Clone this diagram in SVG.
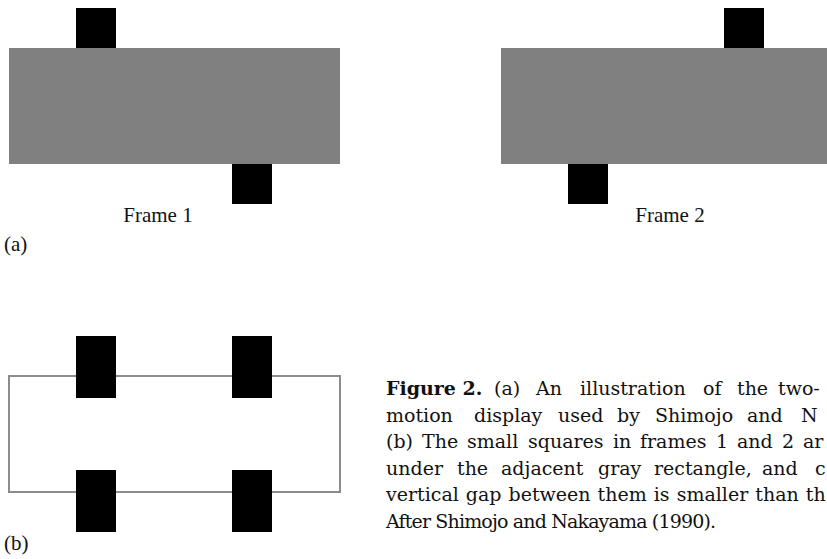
<svg xmlns="http://www.w3.org/2000/svg" width="827" height="559" viewBox="0 0 827 559">
  <style>
    .bar { fill: #808080; }
    .sq { fill: #000000; }
    .outline { fill: none; stroke: #8c8c8c; stroke-width: 2; }
    .lbl { font-family: "Liberation Serif", "Times New Roman", serif; font-size: 21px; fill: #111; }
    .cap { font-family: "DejaVu Serif", "Liberation Serif", serif; font-size: 19px; fill: #111; }
    .bold { font-weight: bold; }
  </style>
  <rect width="827" height="559" fill="#ffffff"/>

  <!-- (a) Frame 1 -->
  <g id="frame1">
    <rect class="bar" x="9" y="48" width="331" height="116"/>
    <rect class="sq" x="76" y="8" width="40" height="40"/>
    <rect class="sq" x="232" y="164" width="40" height="40"/>
    <text class="lbl" x="158" y="222" text-anchor="middle">Frame 1</text>
  </g>

  <!-- (a) Frame 2 -->
  <g id="frame2">
    <rect class="bar" x="501" y="48" width="326" height="116"/>
    <rect class="sq" x="724" y="8" width="40" height="40"/>
    <rect class="sq" x="568" y="164" width="40" height="40"/>
    <text class="lbl" x="670" y="222" text-anchor="middle">Frame 2</text>
  </g>

  <text id="label-a" class="lbl" x="4" y="251">(a)</text>

  <!-- (b) outlined rectangle with the four occluded squares -->
  <g id="panel-b">
    <rect class="outline" x="9" y="376" width="331" height="116"/>
    <rect class="sq" x="76" y="336" width="40" height="62"/>
    <rect class="sq" x="232" y="336" width="40" height="62"/>
    <rect class="sq" x="76" y="470" width="40" height="62"/>
    <rect class="sq" x="232" y="470" width="40" height="62"/>
  </g>

  <text id="label-b" class="lbl" x="4" y="550">(b)</text>

  <!-- justified caption -->
  <g id="caption" class="cap">
    <text y="395"><tspan class="bold" x="386">Figure 2.</tspan><tspan x="494">(a)</tspan><tspan x="536">An</tspan><tspan x="580">illustration</tspan><tspan x="703">of</tspan><tspan x="737">the</tspan><tspan x="778">two-</tspan></text>
    <text y="421.5"><tspan x="386">motion</tspan><tspan x="474">display</tspan><tspan x="558">used</tspan><tspan x="617">by</tspan><tspan x="655">Shimojo</tspan><tspan x="747">and</tspan><tspan x="801">N</tspan></text>
    <text y="448"><tspan x="386">(b)</tspan><tspan x="422">The</tspan><tspan x="467">small</tspan><tspan x="528">squares</tspan><tspan x="613">in</tspan><tspan x="640">frames</tspan><tspan x="716">1</tspan><tspan x="737">and</tspan><tspan x="782">2</tspan><tspan x="803">ar</tspan></text>
    <text y="474.5"><tspan x="386">under</tspan><tspan x="457">the</tspan><tspan x="501">adjacent</tspan><tspan x="598">gray</tspan><tspan x="654">rectangle,</tspan><tspan x="762">and</tspan><tspan x="815">c</tspan></text>
    <text x="386" y="501" word-spacing="1">vertical gap between them is smaller than th</text>
    <text x="386" y="527.5" textLength="330" lengthAdjust="spacing">After Shimojo and Nakayama (1990).</text>
  </g>
</svg>
